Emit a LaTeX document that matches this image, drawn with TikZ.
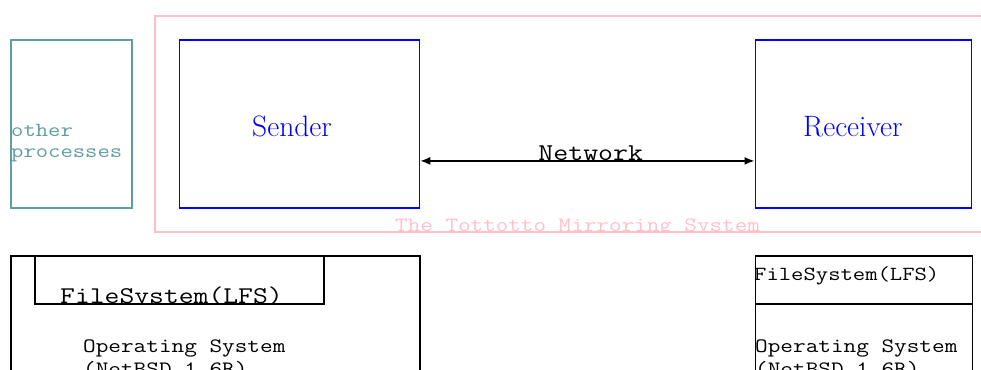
\documentclass[tikz,border=0pt]{standalone}
\usepackage{fontspec}
\newfontfamily\monofont[FakeStretch=1.2]{Latin Modern Mono}
\usetikzlibrary{arrows.meta}
\definecolor{tealc}{RGB}{95,158,160}
\definecolor{pinkc}{RGB}{255,192,203}
% #1: size of the equivalent Courier face
\newcommand\mono[2]{\monofont\fontsize{\fpeval{0.96*#1}}{#2}\selectfont}
\begin{document}
\begin{tikzpicture}[x=1pt,y=-1pt,
  boxc/.style={rectangle,inner sep=0pt,anchor=north west,line width=1.8pt},
  lbl/.style={inner sep=0pt,anchor=base west},
  biarrow/.style={line width=1.6pt,{Latex[length=10pt,width=8pt]}-{Latex[length=10pt,width=8pt]}}]
\useasboundingbox (0,0) rectangle (981,369);
\clip (0,0) rectangle (981,369);
% other processes
\node[boxc,draw=tealc,minimum width=121pt,minimum height=168pt] (other) at (10,39) {};
\node[lbl,text=tealc,font=\mono{20.8}{21}] (oth1) at (11,136) {other};
\node[lbl,text=tealc,font=\mono{20.8}{21}] (oth2) at (11,157) {processes};
% mirroring system
\node[boxc,draw=pinkc,minimum width=846pt,minimum height=216pt] (mirror) at (154,15) {};
\begin{scope}
\clip (154,0) rectangle (981,231);
\node[lbl,text=pinkc,font=\mono{21.2}{23}] (title) at (395,231) {The Tottotto Mirroring System};
\end{scope}
\node[boxc,draw=blue,minimum width=240pt,minimum height=168pt] (sender) at (178.5,39) {};
\node[boxc,draw=blue,minimum width=216pt,minimum height=168pt] (receiver) at (754.5,39) {};
\node[lbl,text=blue,font=\fontsize{29.5}{32}\selectfont] (sendl) at (252,136) {Sender};
\node[lbl,text=blue,font=\fontsize{29.5}{32}\selectfont] (recvl) at (803,136) {Receiver};
\draw[biarrow] ([yshift=-37pt]sender.east) -- ([yshift=-37pt]receiver.west)
  node[pos=0.51,anchor=base,inner sep=0pt,font=\mono{25.2}{27}] (net) {Network};
% lower left
\node[boxc,draw=black,minimum width=409pt,minimum height=200pt] (osl) at (10,255) {};
\node[boxc,draw=black,minimum width=289pt,minimum height=48pt] (fsl) at (34,255) {};
\begin{scope}
\clip (34,255) rectangle (323,303);
\node[lbl,font=\mono{25}{27}] (fsll) at (60,303) {FileSystem(LFS)};
\end{scope}
\node[lbl,font=\mono{21.3}{23}] (osl1) at (83,352) {Operating System};
\node[lbl,font=\mono{21.3}{23}] (osl2) at (83,375) {(NetBSD 1.6R)};
% lower right
\node[boxc,draw=black,minimum width=217pt,minimum height=200pt] (osr) at (754.5,255) {};
\node[boxc,draw=black,minimum width=217pt,minimum height=48pt] (fsr) at (754.5,255) {};
\node[lbl,font=\mono{20.8}{23}] (fsrl) at (754,280) {FileSystem(LFS)};
\node[lbl,font=\mono{21.3}{23}] (osr1) at (755,352) {Operating System};
\node[lbl,font=\mono{21.3}{23}] (osr2) at (755,375) {(NetBSD 1.6R)};
\end{tikzpicture}
\end{document}
